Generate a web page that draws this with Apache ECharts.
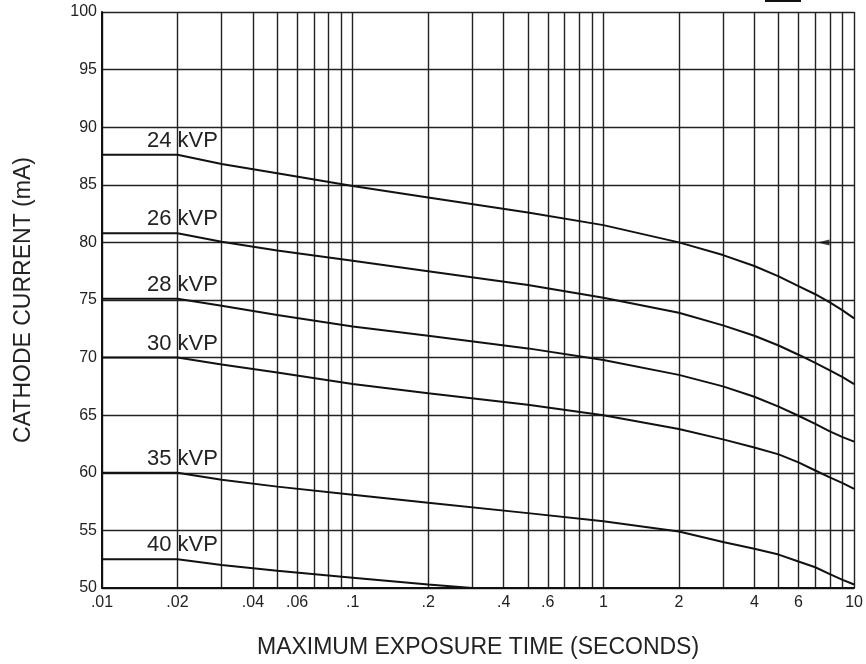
<!DOCTYPE html>
<html>
<head>
<meta charset="utf-8">
<script src="https://cdn.jsdelivr.net/npm/echarts@6/dist/echarts.min.js"></script>
<style>
html,body{margin:0;padding:0;background:#fff;}
#chart{width:866px;height:664px;}
</style>
</head>
<body>
<div id="chart"></div>
<script>
// Tick values
const xGridValues = [0.01,0.02,0.03,0.04,0.05,0.06,0.07,0.08,0.09,0.1,0.2,0.3,0.4,0.5,0.6,0.7,0.8,0.9,1,2,3,4,5,6,7,8,9,10];
const xLabelValues = [0.01,0.02,0.04,0.06,0.1,0.2,0.4,0.6,1,2,4,6,10];

// Curves: [exposure time (s), cathode current (mA)]
const kvp24 = [[0.01,87.6],[0.02,87.6],[0.03,86.8],[0.05,86.0],[0.1,84.9],[0.2,83.9],[0.5,82.6],[1,81.5],[2,80.0],[3,78.9],[4,77.95],[5,77.05],[6,76.2],[7,75.5],[8,74.8],[9,74.1],[10,73.4]];
const kvp26 = [[0.01,80.8],[0.02,80.8],[0.03,80.05],[0.05,79.3],[0.1,78.4],[0.2,77.5],[0.5,76.3],[1,75.2],[2,73.9],[3,72.8],[4,71.9],[5,71.05],[6,70.25],[7,69.55],[8,68.9],[9,68.3],[10,67.7]];
const kvp28 = [[0.01,75.1],[0.02,75.1],[0.03,74.5],[0.05,73.7],[0.1,72.7],[0.2,71.9],[0.5,70.8],[1,69.8],[2,68.5],[3,67.5],[4,66.6],[5,65.75],[6,64.95],[7,64.25],[8,63.6],[9,63.1],[10,62.7]];
const kvp30 = [[0.01,70.0],[0.02,70.0],[0.03,69.4],[0.05,68.7],[0.1,67.7],[0.2,66.9],[0.5,65.9],[1,65.0],[2,63.8],[3,62.9],[4,62.2],[5,61.6],[6,60.9],[7,60.2],[8,59.6],[9,59.1],[10,58.6]];
const kvp35 = [[0.01,60.0],[0.02,60.0],[0.03,59.4],[0.05,58.8],[0.1,58.1],[0.2,57.4],[0.5,56.5],[1,55.8],[2,54.9],[3,54.0],[4,53.4],[5,52.9],[6,52.3],[7,51.8],[8,51.2],[9,50.7],[10,50.3]];
const kvp40 = [[0.01,52.5],[0.02,52.5],[0.03,52.0],[0.05,51.5],[0.1,50.9],[0.2,50.3],[0.3,50.0]];
const seriesNames = ['24 kVP','26 kVP','28 kVP','30 kVP','35 kVP','40 kVP'];
const seriesData = [kvp24,kvp26,kvp28,kvp30,kvp35,kvp40];
const arrowPoint = [[7.55,80]];

const FONT = 'Liberation Sans, Arial, Helvetica, sans-serif';
const chart = echarts.init(document.getElementById('chart'), null, {renderer:'canvas'});

const lineSeries = seriesNames.map((name, i) => ({
  name: name,
  type: 'line',
  data: seriesData[i],
  symbol: 'none',
  smooth: false,
  lineStyle: {color:'#111', width:2},
  z: 5,
  markPoint: {
    symbol: 'circle', symbolSize: 0,
    data: [{coord: seriesData[i][1], value: name}],
    label: {
      show: true, position: 'top', distance: 3, offset: [5, 0],
      formatter: name, color: '#222', fontSize: 22, fontFamily: FONT
    }
  }
}));

const option = {
  animation: false,
  backgroundColor: '#fff',
  grid: {left:102, right:9, top:12, bottom:75, containLabel:false},
  xAxis: {
    type: 'log', logBase: 10, min: 0.01, max: 10,
    name: 'MAXIMUM EXPOSURE TIME (SECONDS)',
    nameLocation: 'middle', nameGap: 48,
    nameTextStyle: {color:'#222', fontSize:23, fontFamily: FONT},
    axisLine: {show:true, lineStyle:{color:'#111', width:2}},
    axisTick: {show:false, customValues: xGridValues},
    axisLabel: {
      customValues: xLabelValues, color:'#222', fontSize:16, fontFamily: FONT, margin:7,
      formatter: v => (v < 1 ? String(v).replace(/^0/, '') : String(v))
    },
    splitLine: {show:true, lineStyle:{color:'#222', width:1.4}}
  },
  yAxis: {
    type: 'value', min: 50, max: 100, interval: 5,
    name: 'CATHODE CURRENT (mA)',
    nameLocation: 'middle', nameGap: 67,
    nameTextStyle: {color:'#222', fontSize:23, fontFamily: FONT},
    axisLine: {show:true, lineStyle:{color:'#111', width:2}},
    axisTick: {show:false},
    axisLabel: {color:'#222', fontSize:16, fontFamily: FONT, margin:5},
    splitLine: {show:true, lineStyle:{color:'#222', width:1.4}}
  },
  series: lineSeries.concat([{
    name: 'arrow', type: 'scatter', data: arrowPoint,
    symbol: 'triangle', symbolSize: [6, 12], symbolRotate: 90,
    itemStyle: {color:'#111'}, z: 6
  }]),
  graphic: [{type:'rect', left:765, top:0, shape:{width:36, height:2}, style:{fill:'#111'}}]
};
chart.setOption(option);
</script>
</body>
</html>
